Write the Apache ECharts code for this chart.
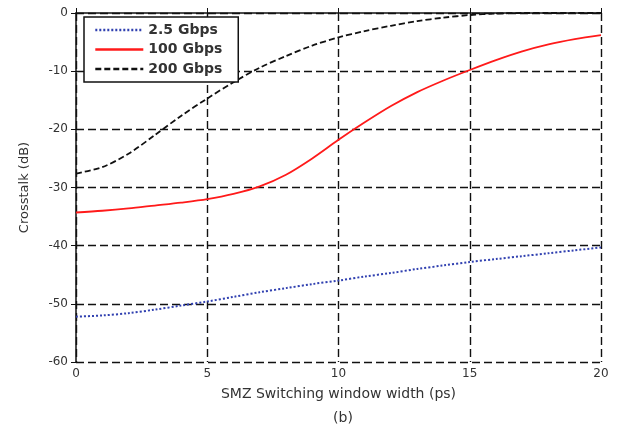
<!DOCTYPE html>
<html>
<head>
<meta charset="utf-8">
<script src="https://cdn.jsdelivr.net/npm/echarts@6/dist/echarts.min.js"></script>
<style>
html,body{margin:0;padding:0;background:#fff;}
#c{width:618px;height:433px;}
</style>
</head>
<body>
<div id="c"></div>
<script>
var xValues = [0,1,2,3,4,5,6,7,8,9,10,11,12,13,14,15,16,17,18,19,20];
var crosstalk2p5 = [-52.2,-52.0,-51.6,-51.0,-50.3,-49.6,-48.8,-48.0,-47.3,-46.6,-46.0,-45.3,-44.7,-44.0,-43.4,-42.8,-42.3,-41.8,-41.3,-40.8,-40.3];
var crosstalk100 = [-34.3,-34.0,-33.6,-33.1,-32.6,-32.0,-31.1,-29.8,-27.8,-25.0,-21.8,-18.8,-16.0,-13.6,-11.6,-9.8,-8.1,-6.6,-5.4,-4.5,-3.8];
var crosstalk200 = [-27.6,-26.5,-24.2,-21.0,-17.7,-14.7,-11.9,-9.4,-7.4,-5.6,-4.2,-3.1,-2.2,-1.4,-0.8,-0.35,-0.1,0,0,0,0];
var seriesNames = ['2.5 Gbps','100 Gbps','200 Gbps'];
var xTicks = [0,5,10,15,20];
var yTicks = [-60,-50,-40,-30,-20,-10,0];

function pairs(ys){ return xValues.map(function(x,i){ return [x, ys[i]]; }); }

var fontFam = 'DejaVu Sans';
var gridDash = {color:'#111', width:1.4, type:[8,4]};
var chart = echarts.init(document.getElementById('c'), null, {renderer:'canvas'});
chart.setOption({
  animation:false,
  backgroundColor:'#fff',
  title:{
    text:'(b)', left:338, top:406, textAlign:'center',
    textStyle:{fontFamily:fontFam, fontSize:14, fontWeight:'normal', color:'#333'}
  },
  grid:{left:76, right:17, top:13, bottom:71, containLabel:false},
  legend:{
    orient:'vertical', left:84, top:17,
    data:seriesNames,
    backgroundColor:'#fff', borderColor:'#111', borderWidth:1.5,
    padding:[6,16,6,10], itemGap:5.5,
    itemWidth:48, itemHeight:14,
    itemStyle:{opacity:0},
    lineStyle:{width:2.6},
    textStyle:{fontFamily:fontFam, fontSize:14, fontWeight:'bold', color:'#333'}
  },
  xAxis:[{
    type:'value', min:0, max:20, interval:5,
    name:'SMZ Switching window width (ps)', nameLocation:'middle', nameGap:25,
    nameTextStyle:{fontFamily:fontFam, fontSize:14, color:'#333'},
    axisLine:{show:true, lineStyle:{color:'#111', width:1.5}},
    axisTick:{show:true, inside:true, length:5, lineStyle:{color:'#111'}},
    axisLabel:{fontFamily:fontFam, fontSize:12, color:'#333', margin:6},
    splitLine:{show:true, lineStyle:gridDash}
  },{
    type:'value', min:0, max:20, interval:5, position:'top',
    axisLine:{show:false}, axisLabel:{show:false},
    axisTick:{show:true, inside:true, length:5, lineStyle:{color:'#111'}},
    splitLine:{show:false}
  }],
  yAxis:[{
    type:'value', min:-60, max:0, interval:10,
    name:'Crosstalk (dB)', nameLocation:'middle', nameGap:45, nameRotate:90,
    nameTextStyle:{fontFamily:fontFam, fontSize:13, color:'#333'},
    axisLine:{show:true, lineStyle:{color:'#111', width:1.5}},
    axisTick:{show:true, inside:true, length:5, lineStyle:{color:'#111'}},
    axisLabel:{fontFamily:fontFam, fontSize:12, color:'#333', margin:8},
    splitLine:{show:true, lineStyle:gridDash}
  },{
    type:'value', min:-60, max:0, interval:10, position:'right',
    axisLine:{show:false}, axisLabel:{show:false},
    axisTick:{show:true, inside:true, length:5, lineStyle:{color:'#111'}},
    splitLine:{show:false}
  }],
  series:[
    {name:seriesNames[0], type:'line', data:pairs(crosstalk2p5), smooth:0.3, symbol:'none',
     lineStyle:{color:'#3040b0', width:2, type:[2,2]}, itemStyle:{color:'#3040b0'}},
    {name:seriesNames[1], type:'line', data:pairs(crosstalk100), smooth:0.3, symbol:'none',
     lineStyle:{color:'#ff1a1a', width:1.8, type:'solid'}, itemStyle:{color:'#ff1a1a'}},
    {name:seriesNames[2], type:'line', data:pairs(crosstalk200), smooth:0.3, symbol:'none', clip:false,
     lineStyle:{color:'#111', width:1.8, type:[6,3]}, itemStyle:{color:'#111'}}
  ]
});
</script>
</body>
</html>
